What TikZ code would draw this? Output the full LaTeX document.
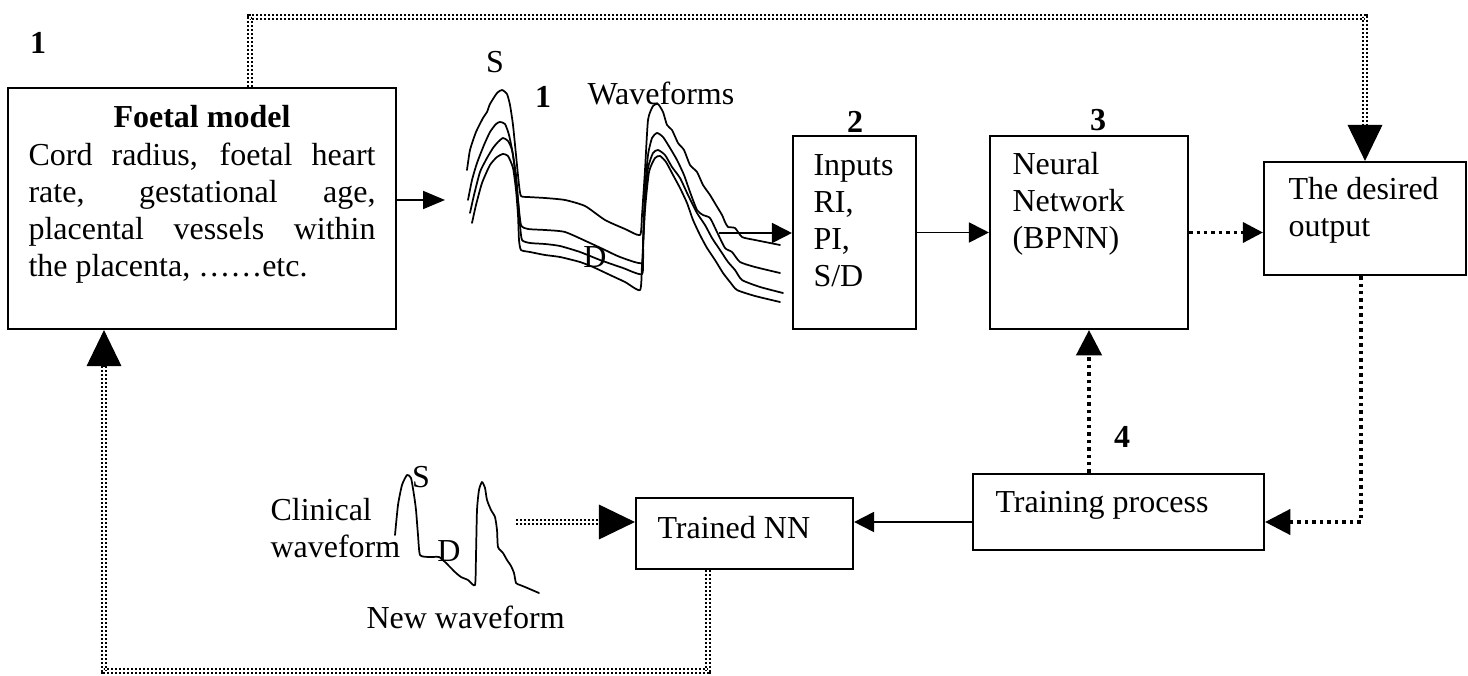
\documentclass[tikz,border=0pt]{standalone}
\usepackage{fontspec}
\setmainfont{Liberation Serif}
\usetikzlibrary{arrows.meta,calc}
\begin{document}
\begin{tikzpicture}[x=0.375pt, y=-0.375pt,
  font=\fontsize{12}{13.875}\selectfont,
  box/.style={draw, line width=0.8pt, inner sep=0pt},
  txt/.style={inner sep=0pt},
  conn/.style={line width=0.7pt},
  sd/.style={line width=1.3pt, dash pattern=on 1.3pt off 1.5pt},
  dd/.style={line width=0.7pt, double distance=0.9pt, dash pattern=on 0.75pt off 0.75pt, line join=miter},
  wave/.style={line width=0.65pt, line join=round, line cap=round},
  smallhead/.style={-{Triangle[length=7.5pt,width=7.5pt]}},
  midhead/.style={-{Triangle[length=9.5pt,width=9.5pt]}},
  bighead/.style={line width=0.4pt, -{Triangle[length=13.5pt,width=13pt]}}
]
\useasboundingbox (0,0) rectangle (1468,676);

% boxes
\node[box, minimum width=145.5pt, minimum height=90.375pt] (foetal) at (202,208.5) {};
\node[box, minimum width=46.125pt, minimum height=72.375pt] (inputs) at (854.5,232.5) {};
\node[box, minimum width=74.25pt, minimum height=72.375pt] (nn) at (1089,232.5) {};
\node[box, minimum width=75.75pt, minimum height=42.375pt] (desired) at (1365,218.5) {};
\node[box, minimum width=109.125pt, minimum height=28.5pt] (training) at (1118.5,512) {};
\node[box, minimum width=81.375pt, minimum height=26.625pt] (trained) at (744.5,533.5) {};

% texts
\node[txt] (num1a) at (38,43) {\textbf{1}};
\node[txt, anchor=base] (ftitle) at (202,128) {\textbf{Foetal model}};
\node[txt, anchor=base west] (ftext) at (28,166) {\parbox[t]{130.125pt}{%
\makebox[130.125pt][s]{Cord radius, foetal heart}\\
\makebox[130.125pt][s]{rate, gestational age,}\\
\makebox[130.125pt][s]{placental vessels within}\\
the placenta, ……etc.}};
\node[txt] (sA) at (495,62) {S};
\node[txt] (num1b) at (543,97) {\textbf{1}};
\node[txt, anchor=base west] (wfl) at (587,105) {Waveforms};
\node[txt] (dA) at (595,257) {D};
\node[txt] (num2) at (855,122) {\textbf{2}};
\node[txt] (num3) at (1098,120) {\textbf{3}};
\node[txt] (num4) at (1122,437) {\textbf{4}};
\node[txt, anchor=base west] (tin) at (813,176) {\parbox[t]{50pt}{Inputs\\RI,\\PI,\\S/D}};
\node[txt, anchor=base west] (tnn) at (1012,175) {\parbox[t]{60pt}{Neural\\Network\\(BPNN)}};
\node[txt, anchor=base west] (tdes) at (1288,200) {\parbox[t]{70pt}{The desired\\output}};
\node[txt, anchor=base west] (ttr) at (995,512) {Training process};
\node[txt, anchor=base west] (ttd) at (657,538) {Trained NN};
\node[txt, anchor=base west] (tcl) at (270,520) {\parbox[t]{50pt}{Clinical\\waveform}};
\node[txt] (sB) at (421,477) {S};
\node[txt] (dB) at (449,551) {D};
\node[txt, anchor=base west] (tnew) at (366,628) {New waveform};

% waveforms
\draw[wave] plot[smooth, tension=0.35] coordinates {(467,170) (470,150) (476,132) (483,118) (487,112) (490,104) (497,93) (502,90) (507,94) (510,105) (513,125) (516,155) (519,185) (521,196) (528,197) (545,198) (565,200) (585,206) (605,220) (625,229) (640,235) (642,215) (645,170) (648,120) (653,106) (658,104) (663,112) (667,125) (672,130) (678,143) (684,150) (690,165) (697,172) (703,185) (710,195) (716,205) (722,215) (725,222) (728,227) (735,228) (742,237) (755,240) (780,245)};
\draw[wave] plot[smooth, tension=0.35] coordinates {(468,200) (472,180) (477,163) (484,145) (490,132) (496,124) (500,122) (505,124) (509,135) (513,155) (516,180) (518,200) (521,225) (528,229) (545,230) (565,232) (590,243) (605,250) (620,257) (642,263) (643,240) (645,190) (648,155) (652,138) (657,133) (663,137) (670,148) (677,160) (684,175) (690,192) (697,210) (703,215) (710,218) (717,232) (725,248) (732,252) (740,262) (755,267) (780,273)};
\draw[wave] plot[smooth, tension=0.35] coordinates {(470,213) (474,195) (480,172) (487,158) (493,148) (498,142) (503,138) (508,141) (512,150) (516,175) (518,200) (520,225) (522,240) (530,243) (545,244) (560,246) (580,252) (600,260) (623,268) (642,274) (643,250) (645,200) (648,168) (653,153) (658,150) (665,155) (672,167) (680,178) (688,195) (697,213) (705,225) (712,238) (720,250) (728,262) (735,270) (742,280) (760,287) (783,293)};
\draw[wave] plot[smooth, tension=0.35] coordinates {(472,223) (476,205) (482,183) (490,165) (497,157) (503,154) (508,156) (513,168) (516,190) (518,215) (519,240) (521,250) (530,252) (545,255) (560,257) (580,262) (593,267) (610,275) (625,282) (640,290) (642,265) (645,210) (649,172) (655,158) (660,156) (666,162) (673,175) (680,188) (687,203) (693,220) (700,235) (707,248) (715,260) (723,273) (730,282) (737,290) (755,296) (780,302)};
\draw[wave] plot[smooth, tension=0.35] coordinates {(395,535) (398,505) (402,485) (407,475) (411,478) (414,495) (416,510) (418,535) (420,555) (429,557) (439,557) (445,562) (450,567) (456,573) (461,577) (468,580) (475,585) (476,555) (477,510) (479,490) (482,482) (485,488) (487,500) (491,510) (495,517) (497,530) (498,547) (503,553) (507,560) (511,566) (514,573) (516,583) (520,585) (525,587) (539,593)};

% coordinates for free ends and bends
\coordinate (wfin) at (445,200);
\coordinate (wfout) at (719,233);
\coordinate (topL) at (250,17);
\coordinate (rt) at (1361,522);
\coordinate (ly) at (0,522);
\coordinate (cw) at (516,522);
\coordinate (bx) at (708,671);
\coordinate (bl) at (104,671);

% connectors
\draw[conn, -{Triangle[length=8.25pt,width=6.75pt]}] (foetal.east |- wfin) -- (wfin);
\draw[conn, smallhead] (wfout) -- (wfout -| inputs.west);
\draw[conn, smallhead] (inputs.east) -- (nn.west);
\draw[sd, smallhead] (nn.east) -- (nn.east -| desired.west);

\draw[dd] (foetal.north -| topL) -- (topL) -| ($(desired.north)+(0,-36)$);
\draw[bighead] ($(desired.north)+(0,-36)$) -- (desired.north);

\draw[sd, midhead] (desired.south -| rt) -- (rt) -- (rt -| training.east);
\draw[sd, midhead] (training.north -| nn.south) -- (nn.south);
\draw[conn, smallhead] (training.west |- ly) -- (trained.east |- ly);

\draw[dd] (cw) -- ($(trained.west |- cw)+(-36,0)$);
\draw[bighead] ($(trained.west |- cw)+(-36,0)$) -- (trained.west |- cw);

\draw[dd] (trained.south -| bx) -- (bx) -- (bl) -- ($(foetal.south -| bl)+(0,36)$);
\draw[bighead] ($(foetal.south -| bl)+(0,36)$) -- (foetal.south -| bl);
\end{tikzpicture}
\end{document}
